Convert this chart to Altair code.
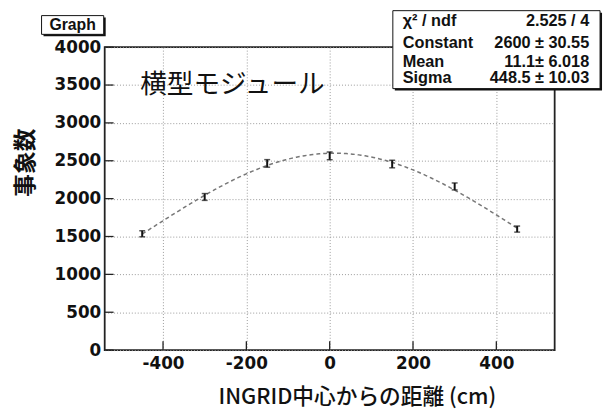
import altair as alt
import pandas as pd

# ---- data ----
positions = [-450, -300, -150, 0, 150, 300, 450]
counts = [1536, 2022, 2465, 2565, 2457, 2161, 1598]
errors = [40, 45, 50, 51, 50, 46, 40]
x_ticks = [-400, -200, 0, 200, 400]
y_ticks = [0, 500, 1000, 1500, 2000, 2500, 3000, 3500, 4000]
fit_constant = 2600
fit_mean = 11.1
fit_sigma = 448.5
stats_names = ["χ² / ndf", "Constant", "Mean", "Sigma"]
stats_values = ["2.525 / 4", "2600 ± 30.55", "11.1± 6.018", "448.5 ± 10.03"]

W, H = 456, 307
DIGITS = "DejaVu Sans"
HELV = "Liberation Sans"
CJK = "Noto Sans CJK JP"

pts = pd.DataFrame({"pos": positions, "count": counts, "err": errors})
one = pd.DataFrame({"a": [0]})

xs = alt.Scale(domain=[-540, 540], nice=False, zero=False)
ys = alt.Scale(domain=[0, 4000], nice=False)

common_axis = dict(title=None, grid=True, ticks=False, domain=False,
                   labelFont=DIGITS, labelFontWeight="bold", labelFontSize=17,
                   labelColor="#111", labelFlush=False, labelOverlap=False,
                   labelExpr="'' + datum.value")
x_axis = alt.Axis(values=x_ticks, labelPadding=6, **common_axis)
y_axis = alt.Axis(values=y_ticks, labelPadding=4, **common_axis)


def X(field):
    return alt.X(field, type="quantitative", scale=xs, axis=x_axis)


def Y(field):
    return alt.Y(field, type="quantitative", scale=ys, axis=y_axis)


base = alt.Chart(pts).transform_calculate(
    lo="datum.count - datum.err", hi="datum.count + datum.err"
)

# inside ticks
xtick_df = pd.DataFrame({"t": x_ticks})
ytick_df = pd.DataFrame({"t": y_ticks})
xtick_layer = alt.Chart(xtick_df).mark_rule(color="#222", strokeWidth=1.3).encode(
    x=X("t"), y=alt.value(H), y2=alt.value(H - 9)
)
ytick_layer = alt.Chart(ytick_df).mark_rule(color="#222", strokeWidth=1.3).encode(
    y=Y("t"), x=alt.value(0), x2=alt.value(9)
)

# fit curve (Gaussian with the fitted parameters)
fit_layer = alt.Chart(alt.sequence(-450, 451, 5, as_="x")).transform_calculate(
    f=f"{fit_constant} * exp(-0.5 * pow((datum.x - {fit_mean}) / {fit_sigma}, 2))"
).mark_line(color="#777", strokeWidth=1.5, strokeDash=[4, 3]).encode(
    x=X("x"), y=Y("f")
)

# error bars
bar_layer = base.mark_rule(color="#111", strokeWidth=2).encode(
    x=X("pos"), y=Y("lo"), y2="hi:Q"
)
cap_lo = base.mark_tick(color="#111", thickness=1.5, size=6, orient="horizontal").encode(
    x=X("pos"), y=Y("lo")
)
cap_hi = base.mark_tick(color="#111", thickness=1.5, size=6, orient="horizontal").encode(
    x=X("pos"), y=Y("hi")
)

# annotations
def txt(text, x, y, font, size, weight="normal", align="left", baseline="alphabetic", angle=0, color="#111"):
    kw = dict(text=text, font=font, fontSize=size, fontWeight=weight, align=align,
              baseline=baseline, color=color)
    if angle:
        kw["angle"] = angle
    return alt.Chart(one).mark_text(**kw).encode(x=alt.value(x), y=alt.value(y))

def box(x1, y1, x2, y2, shadow=2):
    sh = alt.Chart(one).mark_rect(color="#111").encode(
        x=alt.value(x1 + shadow), x2=alt.value(x2 + shadow),
        y=alt.value(y1 + shadow), y2=alt.value(y2 + shadow))
    bx = alt.Chart(one).mark_rect(fill="white", stroke="#111", strokeWidth=1).encode(
        x=alt.value(x1), x2=alt.value(x2), y=alt.value(y1), y2=alt.value(y2))
    return [sh, bx]

title_in = txt("横型モジュール", 36, 38, CJK, 27, baseline="middle")
xtitle = txt("INGRID中心からの距離 (cm)", 256, 355, CJK, 22, weight=500, align="center", baseline="middle")
ytitle = txt("事象数", -80, 117, CJK, 23, weight="bold", align="center", baseline="middle", angle=270)

graph_box = box(-64, -32, -1, -13)
graph_txt = txt("Graph", -32.5, -17.5, HELV, 16, weight="bold", align="center")

stats_box = box(292, -37, 502, 42)
stats_y = [-21, 0.5, 19.8, 36.4]
stats_layers = []
for n, v, yy in zip(stats_names, stats_values, stats_y):
    stats_layers.append(txt(n, 302, yy, HELV, 16.5, weight="bold"))
    stats_layers.append(txt(v, 491, yy, HELV, 16.5, weight="bold", align="right"))

chart = alt.layer(
    fit_layer, bar_layer, cap_lo, cap_hi, xtick_layer, ytick_layer,
    title_in, xtitle, ytitle, *graph_box, graph_txt, *stats_box, *stats_layers
).properties(
    width=W, height=H,
    autosize=alt.AutoSizeParams(type="none"),
    padding={"left": 98, "top": 37, "right": 50, "bottom": 58},
    background="white",
).configure_view(
    stroke="#222", strokeWidth=1.8
).configure_axis(
    gridColor="#999", gridDash=[1, 2], gridWidth=1, gridOpacity=1
)

chart.save("out.html", embed_options={"renderer": "svg", "actions": False})
